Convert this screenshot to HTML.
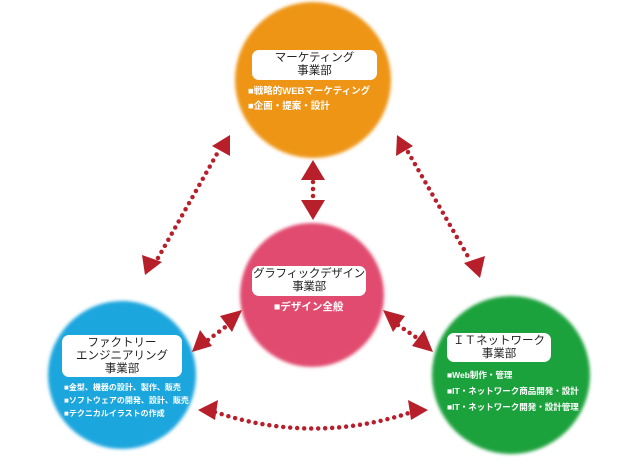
<!DOCTYPE html>
<html><head><meta charset="utf-8"><style>
html,body{margin:0;padding:0;background:#fff;}
body{width:630px;height:470px;position:relative;overflow:hidden;font-family:"Liberation Sans","Noto Sans CJK JP",sans-serif;}
.box{position:absolute;background:#fff;border-radius:7px;text-align:center;font-size:11.5px;line-height:13px;color:#222;white-space:nowrap;}
.t{position:absolute;color:#fff;font-size:9.5px;line-height:15px;white-space:nowrap;font-weight:bold;text-align:left;}
</style></head><body>
<svg width="630" height="470" style="position:absolute;left:0;top:0">
<defs>
<filter id="b" x="-10%" y="-10%" width="120%" height="120%"><feGaussianBlur stdDeviation="1.5"/></filter>
</defs>
<circle cx="313" cy="80" r="78" fill="#ee9512" filter="url(#b)"/>
<circle cx="312" cy="295" r="72" fill="#e14b70" filter="url(#b)"/>
<circle cx="122" cy="375" r="74" fill="#1aa6de" filter="url(#b)"/>
<circle cx="511" cy="375" r="79" fill="#1fa23c" filter="url(#b)"/>
<g stroke="#b71f2b" stroke-width="4.5" stroke-linecap="round" stroke-dasharray="0 7" fill="none">
<line x1="158" y1="258" x2="218" y2="152"/>
<line x1="408" y1="152" x2="470" y2="260"/>
<line x1="313" y1="175" x2="313" y2="205"/>
<line x1="208" y1="340" x2="228" y2="325"/>
<line x1="398" y1="325" x2="420" y2="340"/>
<path d="M215,412 Q313,445 412,412"/>
</g>
<g fill="#b71f2b">
<polygon points="145,275 142,255 162,262"/>
<polygon points="230,135 212,146 230,156"/>
<polygon points="397,135 396,156 413,146"/>
<polygon points="480,278 464,263 485,256"/>
<polygon points="313,160 301,180 325,180"/>
<polygon points="313,220 301,200 325,200"/>
<polygon points="192,352 200,330 212,346"/>
<polygon points="242,310 220,316 232,332"/>
<polygon points="383,310 393,332 405,316"/>
<polygon points="433,352 412,346 424,330"/>
<polygon points="198,410 218,400 215,420"/>
<polygon points="428,410 408,400 411,420"/>
</g>
</svg>
<div class="box" style="left:252px;top:50px;width:125px;height:30px;padding-top:2px;box-sizing:border-box">マーケティング<br>事業部</div>
<div class="t" style="left:248px;top:84px">■戦略的WEBマーケティング<br>■企画・提案・設計</div>
<div class="box" style="left:252px;top:266px;width:114px;height:30px;padding-top:2px;box-sizing:border-box;letter-spacing:-0.3px">グラフィックデザイン<br>事業部</div>
<div class="t" style="left:274px;top:300px;font-size:10.5px">■デザイン全般</div>
<div class="box" style="left:62px;top:335px;width:120px;height:42px;padding-top:2px;box-sizing:border-box">ファクトリー<br>エンジニアリング<br>事業部</div>
<div class="t" style="left:64px;top:381px;font-size:8px;line-height:13px">■金型、機器の設計、製作、販売<br>■ソフトウェアの開発、設計、販売<br>■テクニカルイラストの作成</div>
<div class="box" style="left:447px;top:333px;width:104px;height:29px;padding-top:2px;box-sizing:border-box">ＩＴネットワーク<br>事業部</div>
<div class="t" style="left:447px;top:367px;font-size:8.5px;line-height:16px">■Web制作・管理<br>■IT・ネットワーク商品開発・設計<br>■IT・ネットワーク開発・設計管理</div>
</body></html>
